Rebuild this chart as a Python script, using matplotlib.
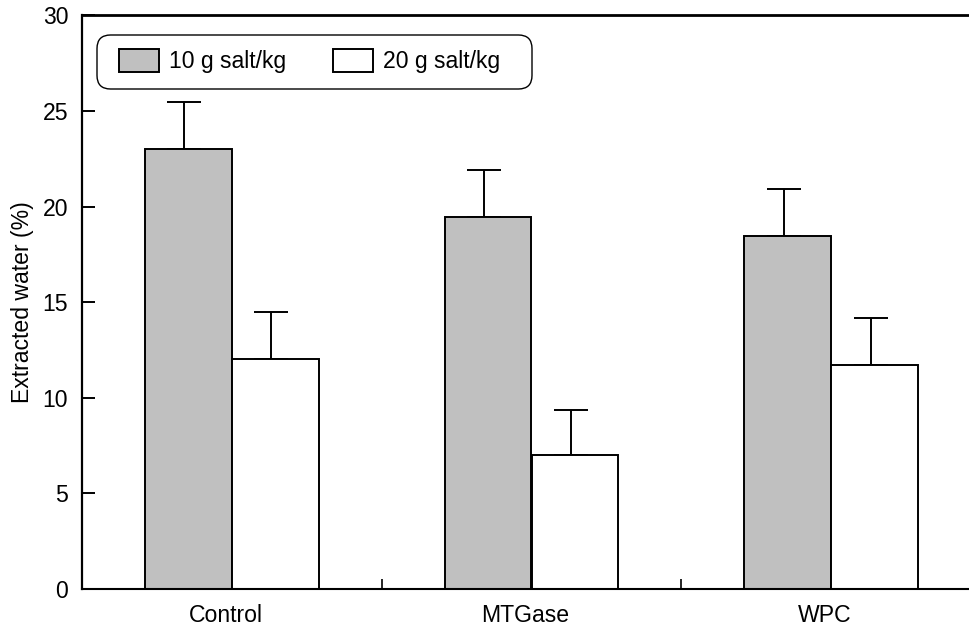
import matplotlib
matplotlib.use("Agg")
import matplotlib.pyplot as plt
import matplotlib.transforms as mtransforms
from matplotlib.patches import Patch, FancyBboxPatch
import numpy as np

# Data
treatments = ["Control", "MTGase", "WPC"]
series_labels = ["10 g salt/kg", "20 g salt/kg"]
salt10 = [23.0, 19.45, 18.45]
salt10_err = [2.45, 2.45, 2.45]
salt20 = [12.05, 7.0, 11.7]
salt20_err = [2.45, 2.35, 2.45]
y_ticks = [0, 5, 10, 15, 20, 25, 30]

plt.rcParams["font.family"] = ["Liberation Sans", "DejaVu Sans"]
FS = 16.6
plt.rcParams["font.size"] = FS

W, H = 969, 626
fig = plt.figure(figsize=(W / 100, H / 100), dpi=100)
# axes runs slightly past the right edge of the canvas (no right spine)
ax = fig.add_axes([82 / W, 37 / H, 899 / W, 573.5 / H])

x = np.arange(len(treatments))
bw = 0.29
edge_lw = 1.4

ax.bar(x - bw, salt10, width=bw, align="edge", color="#c0c0c0",
       edgecolor="black", linewidth=edge_lw, zorder=2)
ax.bar(x, salt20, width=bw, align="edge", color="white",
       edgecolor="black", linewidth=edge_lw, zorder=2)

# one-sided (upper) error bars, nudged a few pixels left of bar centres
shift = mtransforms.offset_copy(ax.transData, fig=fig, x=-4, y=0, units="dots")
err_kw = dict(fmt="none", ecolor="black", elinewidth=1.4, capsize=12,
              capthick=1.4, zorder=1, transform=shift)
ax.errorbar(x - bw / 2, salt10, yerr=[np.zeros(3), salt10_err], **err_kw)
ax.errorbar(x + bw / 2, salt20, yerr=[np.zeros(3), salt20_err], **err_kw)

ax.set_xlim(-0.5, 2.5)
ax.set_ylim(0, 30)

ax.set_yticks(y_ticks)
ax.tick_params(axis="y", direction="in", length=9, width=1.4, pad=10,
               labelsize=FS)
ax.set_xticks(x)
ax.set_xticklabels(treatments)
ax.tick_params(axis="x", which="major", length=0, pad=11, labelsize=FS)
ax.set_xticks([0.5, 1.5], minor=True)
ax.tick_params(axis="x", which="minor", direction="in", length=7, width=1.2)
label_shift = mtransforms.ScaledTranslation(-6 / 100, 0, fig.dpi_scale_trans)
for lbl in ax.get_xticklabels():
    lbl.set_transform(lbl.get_transform() + label_shift)

ax.spines["right"].set_visible(False)
ax.spines["top"].set_linewidth(2.0)
ax.spines["left"].set_linewidth(1.6)
ax.spines["bottom"].set_linewidth(1.5)

ax.set_ylabel("Extracted water (%)", fontsize=FS, labelpad=6)

# legend entries, with a hand-drawn rounded frame around them
handles = [Patch(facecolor="#c0c0c0", edgecolor="black", linewidth=edge_lw),
           Patch(facecolor="white", edgecolor="black", linewidth=edge_lw)]
leg = ax.legend(handles, series_labels, ncol=2, loc="upper left",
                bbox_to_anchor=(119 / W, 1 - 49 / H),
                bbox_transform=fig.transFigure, borderaxespad=0,
                fontsize=FS, frameon=False,
                handlelength=1.75, handleheight=1.15, handletextpad=0.4,
                columnspacing=2.05, borderpad=0)
leg.set_zorder(6)
frame = FancyBboxPatch((97 / W, 1 - 89 / H), 435 / W, 54 / H,
                       boxstyle="round,pad=0,rounding_size=0.014",
                       transform=fig.transFigure, facecolor="white",
                       edgecolor="black", linewidth=1.0, zorder=5,
                       mutation_aspect=W / H, clip_on=False)
ax.add_artist(frame)

fig.savefig("out.png", dpi=100)
